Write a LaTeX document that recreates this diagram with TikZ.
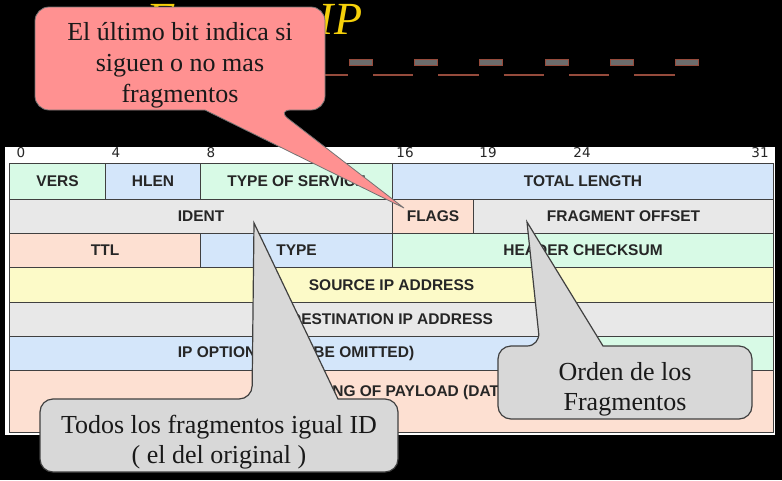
\documentclass[tikz,border=0pt]{standalone}
\usepackage{fontspec}
\setmainfont{Liberation Serif}
\newfontfamily\cellfont{Liberation Sans}
\newfontfamily\bitfont{DejaVu Sans}

\definecolor{titleyellow}{RGB}{245,208,10}
\definecolor{mint}{RGB}{216,250,230}
\definecolor{lblue}{RGB}{212,230,250}
\definecolor{lgray}{RGB}{232,232,232}
\definecolor{peach}{RGB}{253,224,210}
\definecolor{lyellow}{RGB}{252,250,200}
\definecolor{calpink}{RGB}{255,145,145}
\definecolor{calgray}{RGB}{216,216,216}
\definecolor{dashgray}{RGB}{108,108,108}
\definecolor{dashbrown}{RGB}{150,75,60}

\begin{document}
\begin{tikzpicture}[x=1pt,y=-1pt,
  cell/.style={draw=black!75, line width=1.1pt, anchor=north west, inner sep=0pt,
    font=\cellfont\bfseries\fontsize{15.5}{18}\selectfont, text=black!85},
  celltext/.style={inner sep=0pt, font=\cellfont\bfseries\fontsize{15.5}{18}\selectfont, text=black!85},
  bitnum/.style={anchor=base, inner sep=0pt, font=\bitfont\fontsize{13.5}{15}\selectfont, text=black!85},
  pinkcall/.style={fill=calpink, draw=black!55, line width=0.8pt},
  graycall/.style={fill=calgray, draw=black!75, line width=1.2pt},
  calltext/.style={align=center, inner sep=0pt, text=black!90}
]
% page background
\useasboundingbox (0,0) rectangle (782,480);
\fill[black] (0,0) rectangle (782,480);

% title
\node[anchor=base west, inner sep=0pt, text=titleyellow,
  font=\itshape\fontsize{46}{50}\selectfont] (title) at (146,34) {Formato IP};

% decorative rule under the title
\foreach \k in {0,...,5}{
  \draw[dashbrown, line width=1.6pt] ({307.7+65.3*\k},75) -- ({348+65.3*\k},75);
  \draw[fill=dashgray, draw=dashbrown, line width=0.5pt] ({349+65.3*\k},59) rectangle ({372+65.3*\k},65);
}

% white panel behind the header layout
\fill[white] (5,147) rectangle (775,435);

% bit positions
\node[bitnum] (b0)  at (21,157)  {0};
\node[bitnum] (b4)  at (116,157) {4};
\node[bitnum] (b8)  at (211,157) {8};
\node[bitnum] (b16) at (405,157) {16};
\node[bitnum] (b19) at (488,157) {19};
\node[bitnum] (b24) at (582,157) {24};
\node[bitnum] (b31) at (760,157) {31};

% row 1
\node[cell, fill=mint,  minimum width=96pt,  minimum height=36pt] (vers)  at (9,163)   {VERS};
\node[cell, fill=lblue, minimum width=95pt,  minimum height=36pt] (hlen)  at (105,163) {HLEN};
\node[cell, fill=mint,  minimum width=192pt, minimum height=36pt] (tos)   at (200,163) {TYPE OF SERVICE};
\node[cell, fill=lblue, minimum width=381pt, minimum height=36pt] (tlen)  at (392,163) {TOTAL LENGTH};
% row 2
\node[cell, fill=lgray, minimum width=383pt, minimum height=34pt] (ident) at (9,199)   {IDENT};
\node[cell, fill=peach, minimum width=81pt,  minimum height=34pt] (flags) at (392,199) {FLAGS};
\node[cell, fill=lgray, minimum width=300pt, minimum height=34pt] (foff)  at (473,199) {FRAGMENT OFFSET};
% row 3
\node[cell, fill=peach, minimum width=191pt, minimum height=34pt] (ttl)   at (9,233)   {TTL};
\node[cell, fill=lblue, minimum width=192pt, minimum height=34pt] (type)  at (200,233) {TYPE};
\node[cell, fill=mint,  minimum width=381pt, minimum height=34pt] (hcs)   at (392,233) {HEADER CHECKSUM};
% rows 4-6
\node[cell, fill=lyellow, minimum width=764pt, minimum height=35pt] (src) at (9,267) {SOURCE IP ADDRESS};
\node[cell, fill=lgray,   minimum width=764pt, minimum height=34pt] (dst) at (9,302) {DESTINATION IP ADDRESS};
\node[cell, fill=lblue,   minimum width=573pt, minimum height=34pt] (opts) at (9,336) {IP OPTIONS (MAY BE OMITTED)};
\node[cell, fill=mint,    minimum width=191pt, minimum height=34pt] (pad)  at (582,336) {};
% row 7
\node[cell, fill=peach, minimum width=764pt, minimum height=62pt] (data) at (9,370) {};
\node[celltext] (datalabel) at (391,392) {BEGINNING OF PAYLOAD (DATA)};

% callout: flags
\coordinate (flagtip) at (404,208);
\draw[pinkcall] (180,7) [rounded corners=14pt] -- (325,7) -- (325,110) -- (277,110)
  [sharp corners] -- (flagtip) -- (205,110)
  [rounded corners=14pt] -- (35,110) -- (35,7) -- cycle;
\node[calltext, font=\fontsize{26}{31}\selectfont] (flagnote) at (180,65)
  {El último bit indica si\\siguen o no mas\\fragmentos};

% callout: fragment offset
\coordinate (offtip) at (527,222);
\draw[graycall] (625,346) [rounded corners=13pt] -- (752,346) -- (752,419) -- (498,419) -- (498,346) -- (540,346)
  [sharp corners] -- (offtip) -- (603,346)
  [rounded corners=13pt] -- cycle;
\node[calltext, font=\fontsize{26}{30}\selectfont] (offnote) at (625,389)
  {Orden de los\\Fragmentos};

% callout: identification
\coordinate (idtip) at (254,223);
\draw[graycall] (219,472) [rounded corners=13pt] -- (40,472) -- (40,399) -- (252,399)
  [sharp corners] -- (idtip) -- (338,399)
  [rounded corners=13pt] -- (398,399) -- (398,472) -- cycle;
\node[calltext, font=\fontsize{26}{30}\selectfont] (idnote) at (219,442)
  {Todos los fragmentos igual ID\\( el del original )};
\end{tikzpicture}
\end{document}
